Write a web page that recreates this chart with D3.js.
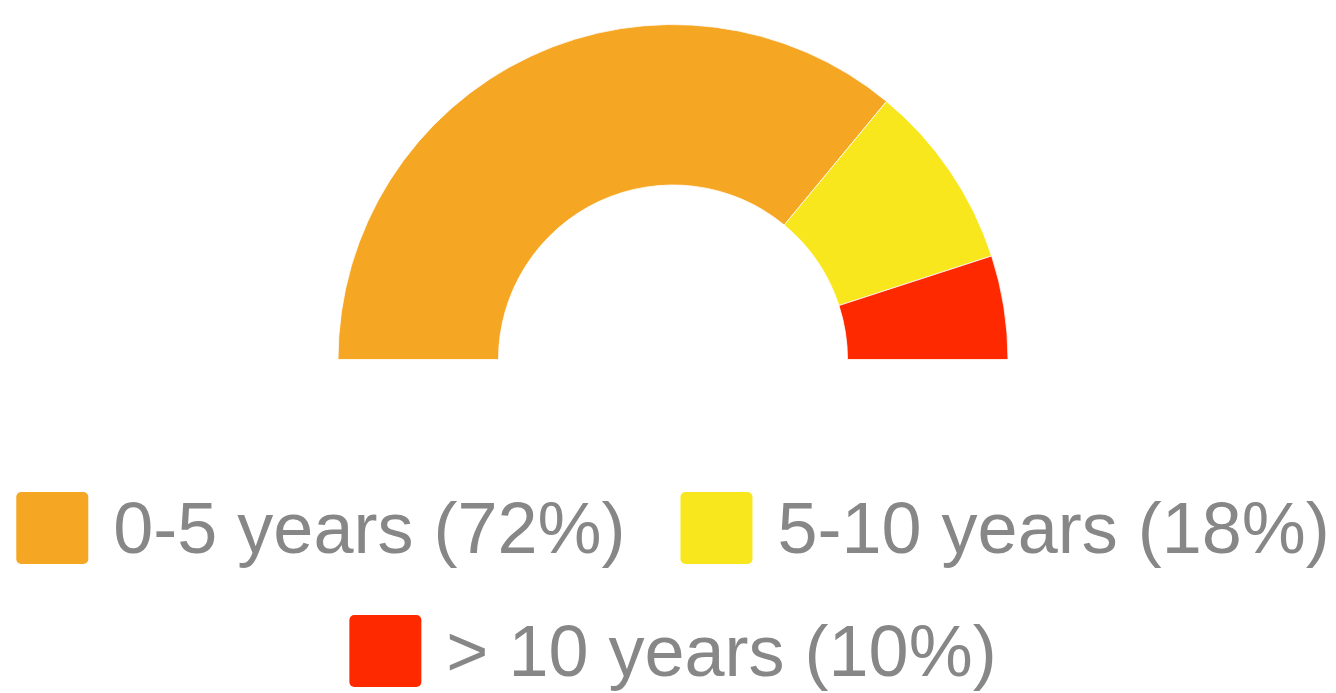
<!DOCTYPE html>
<html>
<head>
<meta charset="utf-8">
<script src="https://cdn.jsdelivr.net/npm/d3@7"></script>
<style>
  html, body { margin: 0; padding: 0; background: #fff; }
  svg { display: block; }
</style>
</head>
<body>
<svg id="chart" width="1336" height="693"></svg>
<script>
const categories = ["0-5 years", "5-10 years", "> 10 years"];
const values = [72, 18, 10];
const colors = ["#F5A623", "#F8E71C", "#FF2900"];

const W = 1336, H = 693;
const cx = 673, cy = 359.5, outerR = 335, innerR = 174.5;

const svg = d3.select("#chart");

const pie = d3.pie().sort(null).startAngle(-Math.PI / 2).endAngle(Math.PI / 2);
const arc = d3.arc().innerRadius(innerR).outerRadius(outerR);

const data = categories.map((c, i) => ({ name: c, value: values[i], color: colors[i] }));

svg.append("g")
  .attr("transform", `translate(${cx},${cy})`)
  .selectAll("path")
  .data(pie.value(d => d.value)(data))
  .join("path")
  .attr("d", arc)
  .attr("fill", d => d.data.color)
  .attr("stroke", "#fff")
  .attr("stroke-width", 0.8);

// Legend
const fontSize = 72, sw = 72, textGap = 25, itemGap = 55, rowH = 123, firstRowTop = 492;
const legend = svg.append("g");
const items = data.map(d => {
  const g = legend.append("g");
  g.append("rect").attr("width", sw).attr("height", sw).attr("rx", 5).attr("fill", d.color);
  const t = g.append("text")
    .attr("x", sw + textGap)
    .attr("y", 61)
    .attr("font-family", "'Liberation Sans', Arial, sans-serif")
    .attr("font-size", fontSize)
    .attr("fill", "#878787")
    .text(`${d.name} (${d.value}%)`);
  const w = sw + textGap + t.node().getComputedTextLength();
  return { g, w };
});

// wrap into rows
const rows = [];
let cur = [], curW = 0;
items.forEach(it => {
  const add = cur.length ? itemGap + it.w : it.w;
  if (cur.length && curW + add > W - 20) { rows.push({ items: cur, w: curW }); cur = [it]; curW = it.w; }
  else { cur.push(it); curW += add; }
});
if (cur.length) rows.push({ items: cur, w: curW });

rows.forEach((r, ri) => {
  let x = cx - r.w / 2;
  r.items.forEach(it => {
    it.g.attr("transform", `translate(${x},${firstRowTop + ri * rowH})`);
    x += it.w + itemGap;
  });
});
</script>
</body>
</html>
